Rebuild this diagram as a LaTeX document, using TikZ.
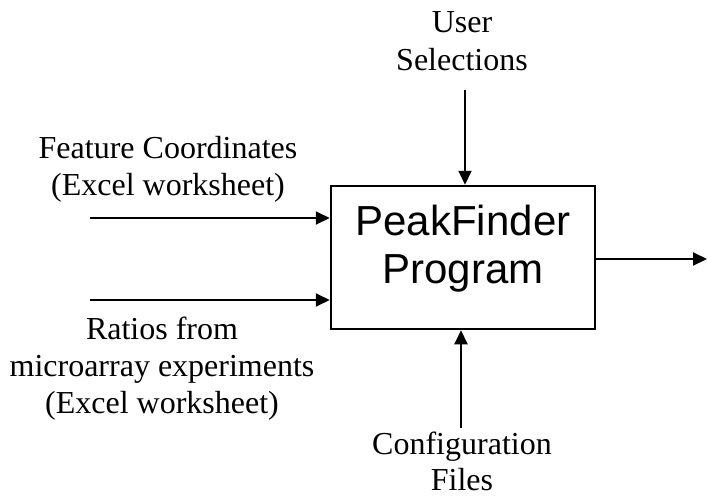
\documentclass[tikz,border=0pt]{standalone}
\usepackage{fontspec}
\setmainfont{Liberation Serif}
\newfontfamily\boxfont{Liberation Sans}
\usetikzlibrary{arrows.meta}
\begin{document}
\begin{tikzpicture}[x=1pt,y=-1pt,
  lbl/.style={anchor=base,inner sep=0pt,font=\fontsize{32}{37}\selectfont},
  boxlbl/.style={anchor=base,inner sep=0pt,font=\boxfont\fontsize{42}{48}\selectfont},
  flow/.style={line width=2pt,-{Triangle[length=14pt,width=13pt]}},
  mainbox/.style={draw,line width=2.5pt,minimum width=264pt,minimum height=143pt,inner sep=0pt}]
\useasboundingbox (0,0) rectangle (708,497);
\node[mainbox] (box) at (463,257.5) {};
\node[boxlbl] (p1) at (463,235) {PeakFinder};
\node[boxlbl] (p2) at (463,283) {Program};
% top input
\node[lbl] (u1) at (462,33) {User};
\node[lbl] (u2) at (462,71) {Selections};
\coordinate (ustart) at (465,90);
\draw[flow] (ustart) -- (box.north -| ustart);
% left inputs
\node[lbl] (f1) at (168,158) {Feature Coordinates};
\node[lbl] (f2) at (168,195) {(Excel worksheet)};
\coordinate (fstart) at (90,218);
\draw[flow] (fstart) -- (box.west |- fstart);
\node[lbl] (r1) at (162,339) {Ratios from};
\node[lbl] (r2) at (162,376) {microarray experiments};
\node[lbl] (r3) at (162,413) {(Excel worksheet)};
\coordinate (rstart) at (90,300);
\draw[flow] (rstart) -- (box.west |- rstart);
% bottom input
\node[lbl] (c1) at (462,454) {Configuration};
\node[lbl] (c2) at (462,490) {Files};
\coordinate (cstart) at (461,428);
\draw[flow] (cstart) -- (box.south -| cstart);
% output
\coordinate (out) at (707,259);
\draw[flow] (box.east |- out) -- (out);
\end{tikzpicture}
\end{document}
